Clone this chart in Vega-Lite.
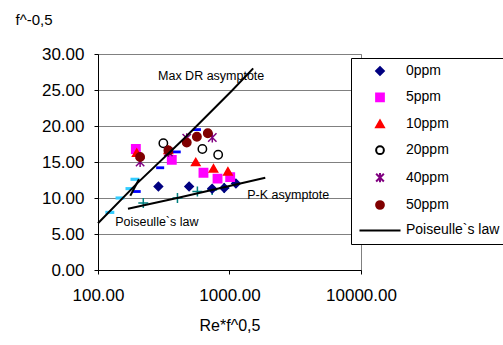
{
  "$schema": "https://vega.github.io/schema/vega-lite/v6.json",
  "width": 263,
  "height": 216,
  "autosize": "none",
  "padding": {"left": 98, "top": 54, "right": 142, "bottom": 75},
  "background": "white",
  "config": {"font": "Liberation Sans", "view": {"stroke": "#808080", "strokeWidth": 1}},
  "datasets": {
    "main": [
      {"series": "0ppm", "x": 288, "y": 11.6},
      {"series": "0ppm", "x": 493, "y": 11.6},
      {"series": "0ppm", "x": 738, "y": 11.3},
      {"series": "0ppm", "x": 912, "y": 11.4},
      {"series": "0ppm", "x": 1119, "y": 12.0},
      {"series": "5ppm", "x": 194, "y": 16.8},
      {"series": "5ppm", "x": 364, "y": 15.3},
      {"series": "5ppm", "x": 634, "y": 13.5},
      {"series": "5ppm", "x": 811, "y": 12.7},
      {"series": "5ppm", "x": 1012, "y": 12.9},
      {"series": "10ppm", "x": 197, "y": 16.3},
      {"series": "10ppm", "x": 343, "y": 16.7},
      {"series": "10ppm", "x": 554, "y": 15.0},
      {"series": "10ppm", "x": 755, "y": 14.1},
      {"series": "10ppm", "x": 973, "y": 13.7},
      {"series": "20ppm", "x": 314, "y": 17.6},
      {"series": "20ppm", "x": 622, "y": 16.8},
      {"series": "20ppm", "x": 820, "y": 16.0},
      {"series": "40ppm", "x": 209, "y": 15.0},
      {"series": "40ppm", "x": 343, "y": 16.4},
      {"series": "40ppm", "x": 473, "y": 18.3},
      {"series": "40ppm", "x": 740, "y": 18.4},
      {"series": "50ppm", "x": 209, "y": 15.7},
      {"series": "50ppm", "x": 343, "y": 16.6},
      {"series": "50ppm", "x": 473, "y": 17.7},
      {"series": "50ppm", "x": 565, "y": 18.5},
      {"series": "50ppm", "x": 684, "y": 19.0}
    ],
    "cyan": [
      {"x": 123, "y": 8.0},
      {"x": 147, "y": 10.0},
      {"x": 175, "y": 11.3},
      {"x": 191, "y": 12.6}
    ],
    "blue": [
      {"x": 197, "y": 10.9},
      {"x": 297, "y": 14.2},
      {"x": 397, "y": 16.4},
      {"x": 565, "y": 19.5}
    ],
    "pk": [
      {"x": 221, "y": 9.3},
      {"x": 402, "y": 10.0},
      {"x": 570, "y": 10.9},
      {"x": 738, "y": 11.1},
      {"x": 912, "y": 11.4}
    ],
    "maxdr": [
      {"x": 100, "y": 6.5},
      {"x": 200, "y": 12.1},
      {"x": 460, "y": 18.4},
      {"x": 1042, "y": 24.9},
      {"x": 1514, "y": 28.0}
    ],
    "pois": [
      {"x": 176, "y": 10.3},
      {"x": 205, "y": 12.6}
    ],
    "pkline": [
      {"x": 169, "y": 8.5},
      {"x": 400, "y": 10.0},
      {"x": 1140, "y": 11.9},
      {"x": 1871, "y": 12.8}
    ],
    "notes": [
      {"label": "Max DR asymptote", "x": 286, "y": 26.9},
      {"label": "P-K asymptote", "x": 1365, "y": 10.4},
      {"label": "Poiseulle`s law", "x": 135, "y": 6.7}
    ]
  },
  "encoding": {
    "x": {
      "field": "x", "type": "quantitative",
      "scale": {"type": "log", "domain": [100, 10000]},
      "axis": {
        "values": [100, 1000, 10000], "format": ".2f", "grid": false,
        "labelFontSize": 17, "labelColor": "black", "labelFlush": false,
        "tickSize": 4, "tickColor": "black", "domainColor": "black",
        "labelPadding": 13,
        "title": "Re*f^0,5", "titleFontSize": 16, "titleFontWeight": "normal",
        "titleColor": "black", "titlePadding": 14
      }
    },
    "y": {
      "field": "y", "type": "quantitative",
      "scale": {"domain": [0, 30], "nice": false, "zero": true},
      "axis": {
        "values": [0, 5, 10, 15, 20, 25, 30], "format": ".2f", "grid": true,
        "gridColor": "#808080", "labelFontSize": 17, "labelColor": "black",
        "tickSize": 4, "tickColor": "black", "domainColor": "black",
        "labelPadding": 10,
        "title": "f^-0,5", "titleAngle": 0, "titleAlign": "left",
        "titleBaseline": "middle", "titleX": -83, "titleY": -35,
        "titleFontSize": 15, "titleFontWeight": "normal", "titleColor": "black"
      }
    }
  },
  "layer": [
    {
      "data": {"name": "cyan"},
      "mark": {"type": "point", "shape": "M-1,-0.35H1V0.35H-1Z", "filled": true, "color": "#33CCFF", "size": 80, "opacity": 1}
    },
    {
      "data": {"name": "blue"},
      "mark": {"type": "point", "shape": "M-1,-0.35H1V0.35H-1Z", "filled": true, "color": "#0000FF", "size": 64, "opacity": 1}
    },
    {
      "data": {"name": "pk"},
      "mark": {"type": "point", "shape": "M-1,0H1M0,-1V1", "filled": false, "color": "#008080", "size": 100, "strokeWidth": 1.5, "opacity": 1}
    },
    {
      "data": {"name": "main"},
      "mark": {"type": "point", "size": 70, "strokeWidth": 1.5, "opacity": 1},
      "encoding": {
        "shape": {
          "field": "series", "type": "nominal",
          "scale": {
            "domain": ["0ppm", "5ppm", "10ppm", "20ppm", "40ppm", "50ppm", "Poiseulle`s law"],
            "range": ["diamond", "square", "triangle-up", "circle", "M-1,-1L1,1M-1,1L1,-1M0,-1.2V1.2", "circle", "M-5.3,0H5.3"]
          },
          "legend": {
            "title": null, "orient": "none", "legendX": 253, "legendY": 4,
            "padding": 6, "strokeColor": "black", "fillColor": "white",
            "labelFontSize": 14, "labelColor": "black", "symbolSize": 60,
            "symbolStrokeWidth": 2, "rowPadding": 10.4, "symbolOffset": 16,
            "labelOffset": 19, "cornerRadius": 0
          }
        },
        "fill": {
          "field": "series", "type": "nominal",
          "scale": {
            "domain": ["0ppm", "5ppm", "10ppm", "20ppm", "40ppm", "50ppm", "Poiseulle`s law"],
            "range": ["#000080", "#FF00FF", "#FF0000", "transparent", "transparent", "#800000", "transparent"]
          }
        },
        "stroke": {
          "field": "series", "type": "nominal",
          "scale": {
            "domain": ["0ppm", "5ppm", "10ppm", "20ppm", "40ppm", "50ppm", "Poiseulle`s law"],
            "range": ["#000080", "#FF00FF", "#FF0000", "#000000", "#800080", "#800000", "#000000"]
          }
        }
      }
    },
    {
      "data": {"name": "maxdr"},
      "mark": {"type": "line", "color": "black", "strokeWidth": 2},
      "encoding": {}
    },
    {
      "data": {"name": "pois"},
      "mark": {"type": "line", "color": "black", "strokeWidth": 2},
      "encoding": {}
    },
    {
      "data": {"name": "pkline"},
      "mark": {"type": "line", "color": "black", "strokeWidth": 2},
      "encoding": {}
    },
    {
      "data": {"name": "notes"},
      "mark": {"type": "text", "align": "left", "baseline": "middle", "fontSize": 12.5, "color": "black"},
      "encoding": {"text": {"field": "label"}}
    }
  ]
}
